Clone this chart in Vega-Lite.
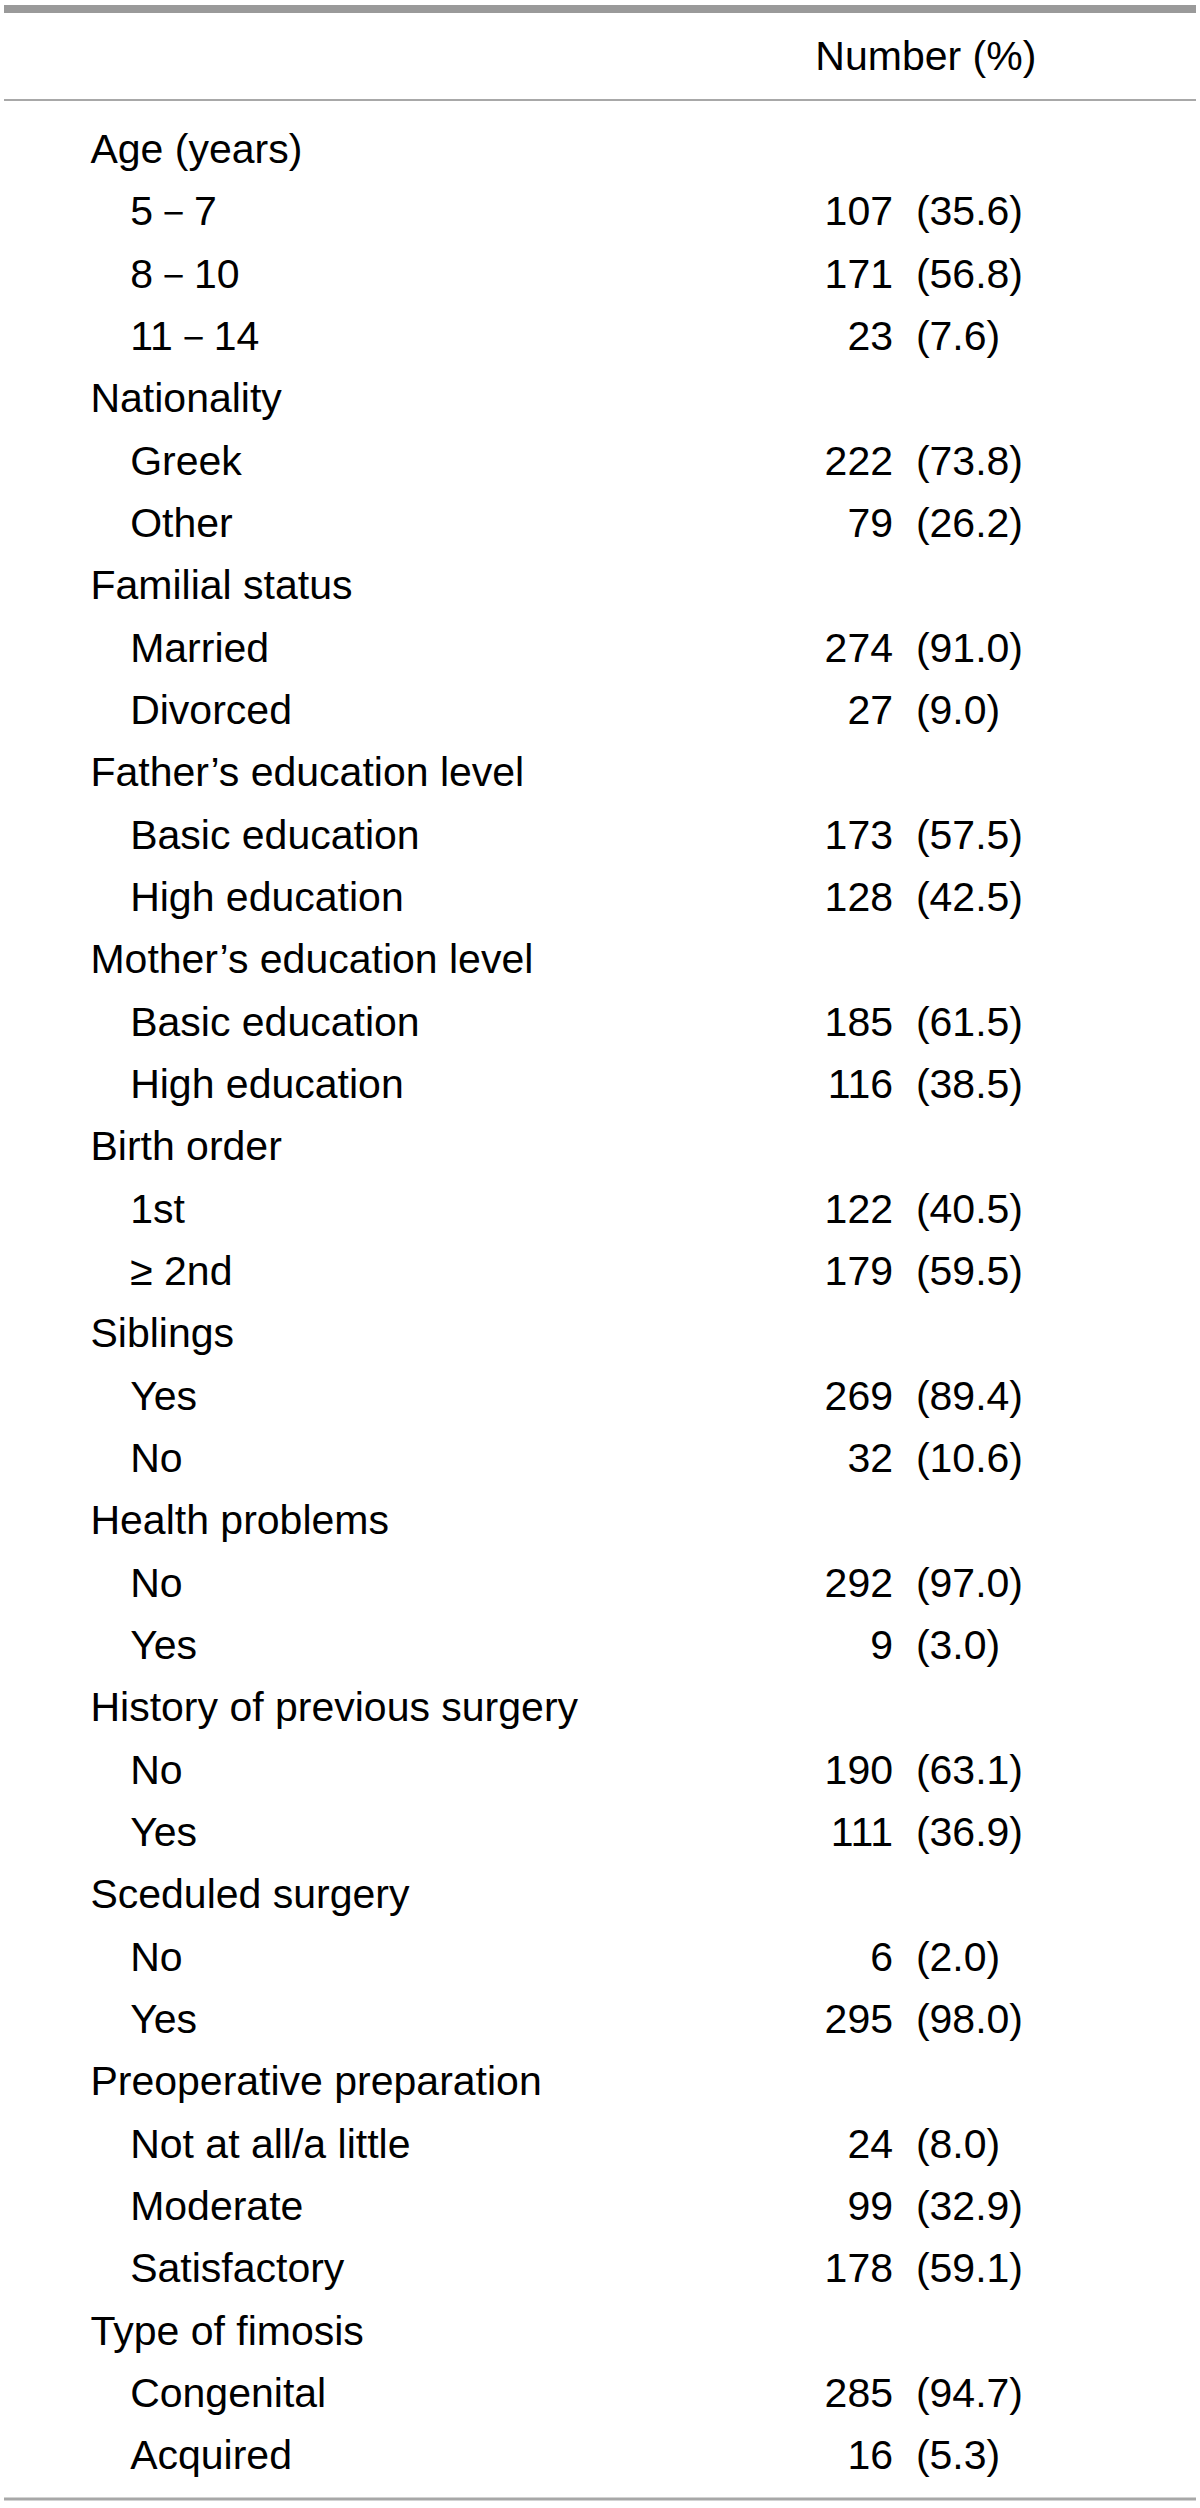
{
  "$schema": "https://vega.github.io/schema/vega-lite/v6.json",
  "autosize": {"type": "fit", "contains": "padding"},
  "width": 1200,
  "height": 2508,
  "padding": 0,
  "background": "white",
  "config": {"view": {"stroke": null}},
  "datasets": {
    "rows": [
      {"row": 1, "label": "Age (years)", "indent": 0, "n": null, "pct": null},
      {"row": 2, "label": "5－7", "indent": 1, "n": 107, "pct": 35.6},
      {"row": 3, "label": "8－10", "indent": 1, "n": 171, "pct": 56.8},
      {"row": 4, "label": "11－14", "indent": 1, "n": 23, "pct": 7.6},
      {"row": 5, "label": "Nationality", "indent": 0, "n": null, "pct": null},
      {"row": 6, "label": "Greek", "indent": 1, "n": 222, "pct": 73.8},
      {"row": 7, "label": "Other", "indent": 1, "n": 79, "pct": 26.2},
      {"row": 8, "label": "Familial status", "indent": 0, "n": null, "pct": null},
      {"row": 9, "label": "Married", "indent": 1, "n": 274, "pct": 91.0},
      {"row": 10, "label": "Divorced", "indent": 1, "n": 27, "pct": 9.0},
      {"row": 11, "label": "Father’s education level", "indent": 0, "n": null, "pct": null},
      {"row": 12, "label": "Basic education", "indent": 1, "n": 173, "pct": 57.5},
      {"row": 13, "label": "High education", "indent": 1, "n": 128, "pct": 42.5},
      {"row": 14, "label": "Mother’s education level", "indent": 0, "n": null, "pct": null},
      {"row": 15, "label": "Basic education", "indent": 1, "n": 185, "pct": 61.5},
      {"row": 16, "label": "High education", "indent": 1, "n": 116, "pct": 38.5},
      {"row": 17, "label": "Birth order", "indent": 0, "n": null, "pct": null},
      {"row": 18, "label": "1st", "indent": 1, "n": 122, "pct": 40.5},
      {"row": 19, "label": "≥ 2nd", "indent": 1, "n": 179, "pct": 59.5},
      {"row": 20, "label": "Siblings", "indent": 0, "n": null, "pct": null},
      {"row": 21, "label": "Yes", "indent": 1, "n": 269, "pct": 89.4},
      {"row": 22, "label": "No", "indent": 1, "n": 32, "pct": 10.6},
      {"row": 23, "label": "Health problems", "indent": 0, "n": null, "pct": null},
      {"row": 24, "label": "No", "indent": 1, "n": 292, "pct": 97.0},
      {"row": 25, "label": "Yes", "indent": 1, "n": 9, "pct": 3.0},
      {"row": 26, "label": "History of previous surgery", "indent": 0, "n": null, "pct": null},
      {"row": 27, "label": "No", "indent": 1, "n": 190, "pct": 63.1},
      {"row": 28, "label": "Yes", "indent": 1, "n": 111, "pct": 36.9},
      {"row": 29, "label": "Sceduled surgery", "indent": 0, "n": null, "pct": null},
      {"row": 30, "label": "No", "indent": 1, "n": 6, "pct": 2.0},
      {"row": 31, "label": "Yes", "indent": 1, "n": 295, "pct": 98.0},
      {"row": 32, "label": "Preoperative preparation", "indent": 0, "n": null, "pct": null},
      {"row": 33, "label": "Not at all/a little", "indent": 1, "n": 24, "pct": 8.0},
      {"row": 34, "label": "Moderate", "indent": 1, "n": 99, "pct": 32.9},
      {"row": 35, "label": "Satisfactory", "indent": 1, "n": 178, "pct": 59.1},
      {"row": 36, "label": "Type of fimosis", "indent": 0, "n": null, "pct": null},
      {"row": 37, "label": "Congenital", "indent": 1, "n": 285, "pct": 94.7},
      {"row": 38, "label": "Acquired", "indent": 1, "n": 16, "pct": 5.3}
    ],
    "header": [{"title": "Number (%)"}],
    "rules": [
      {"name": "top"},
      {"name": "head"},
      {"name": "bottom"}
    ]
  },
  "layer": [
    {
      "data": {"name": "rows"},
      "mark": {"type": "text", "align": "left", "baseline": "alphabetic", "font": "Liberation Sans, Arial, sans-serif", "fontSize": 41, "fill": "#000"},
      "encoding": {
        "x": {"field": "indent", "type": "quantitative", "axis": null,
              "scale": {"domain": [-2.175, 27.825], "zero": false, "nice": false}},
        "y": {"field": "row", "type": "quantitative", "axis": null,
              "scale": {"domain": [-1.615, 38.622], "reverse": true, "zero": false, "nice": false}},
        "text": {"field": "label", "type": "nominal"}
      }
    },
    {
      "data": {"name": "rows"},
      "transform": [{"filter": "datum.n != null"}],
      "mark": {"type": "text", "align": "right", "baseline": "alphabetic", "font": "Liberation Sans, Arial, sans-serif", "fontSize": 41, "fill": "#000"},
      "encoding": {
        "x": {"datum": 20.2, "type": "quantitative", "axis": null},
        "y": {"field": "row", "type": "quantitative", "axis": null},
        "text": {"field": "n", "type": "quantitative", "format": "d"}
      }
    },
    {
      "data": {"name": "rows"},
      "transform": [{"filter": "datum.n != null"}, {"calculate": "'(' + format(datum.pct, '.1f') + ')'", "as": "pctText"}],
      "mark": {"type": "text", "align": "left", "baseline": "alphabetic", "font": "Liberation Sans, Arial, sans-serif", "fontSize": 41, "fill": "#000"},
      "encoding": {
        "x": {"datum": 20.775, "type": "quantitative", "axis": null},
        "y": {"field": "row", "type": "quantitative", "axis": null},
        "text": {"field": "pctText", "type": "nominal"}
      }
    },
    {
      "data": {"name": "header"},
      "mark": {"type": "text", "align": "center", "baseline": "alphabetic", "font": "Liberation Sans, Arial, sans-serif", "fontSize": 41, "fill": "#000"},
      "encoding": {
        "x": {"datum": 21.025, "type": "quantitative", "axis": null},
        "y": {"datum": -0.49, "type": "quantitative", "axis": null},
        "text": {"field": "title", "type": "nominal"}
      }
    },
    {
      "data": {"name": "rules"},
      "transform": [{"filter": "datum.name === 'top'"}],
      "mark": {"type": "rule", "stroke": "#9a9a9a", "strokeWidth": 8},
      "encoding": {"y": {"datum": -1.471, "type": "quantitative", "axis": null}}
    },
    {
      "data": {"name": "rules"},
      "transform": [{"filter": "datum.name === 'head'"}],
      "mark": {"type": "rule", "stroke": "#a8a8a8", "strokeWidth": 2},
      "encoding": {"y": {"datum": -0.011, "type": "quantitative", "axis": null}}
    },
    {
      "data": {"name": "rules"},
      "transform": [{"filter": "datum.name === 'bottom'"}],
      "mark": {"type": "rule", "stroke": "#a8a8a8", "strokeWidth": 3},
      "encoding": {"y": {"datum": 38.478, "type": "quantitative", "axis": null}}
    }
  ]
}
